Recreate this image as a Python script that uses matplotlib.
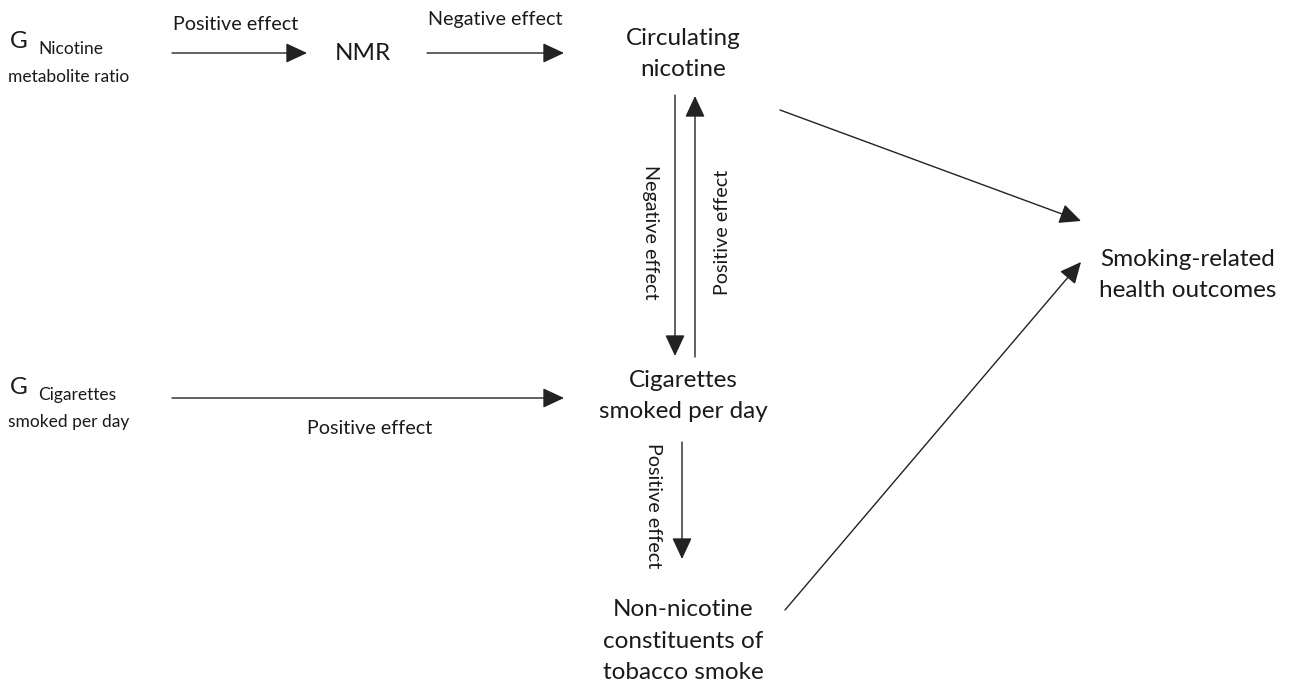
import matplotlib
matplotlib.use("Agg")
import matplotlib.pyplot as plt

plt.rcParams['font.family'] = ['Lato', 'DejaVu Sans']

# Node labels
node_names = ["NMR", "Circulating\nnicotine", "Cigarettes\nsmoked per day",
              "Non-nicotine\nconstituents of\ntobacco smoke",
              "Smoking-related\nhealth outcomes"]
instrument_main = ["G", "G"]
instrument_sub = ["Nicotine", "Cigarettes"]
instrument_sub2 = ["metabolite ratio", "smoked per day"]
effect_labels = ["Positive effect", "Negative effect", "Negative effect",
                 "Positive effect", "Positive effect", "Positive effect"]

W, H = 1307, 689
fig = plt.figure(figsize=(W / 100, H / 100), dpi=100)
ax = fig.add_axes([0, 0, 1, 1])
ax.set_xlim(0, W)
ax.set_ylim(H, 0)
ax.axis('off')

big = 17.5
small = 14.2
sub = 12.5
tc = '#1a1a1a'

def node(x, y, text):
    ax.text(x, y, text, ha='center', va='center', fontsize=big,
            linespacing=1.62, color=tc)

node(363, 53, node_names[0])
node(683, 54, node_names[1])
node(683, 396, node_names[2])
node(683, 641, node_names[3])
node(1188, 275, node_names[4])

# Instruments
for (gy, sy, s2y), m, s, s2 in zip([(41, 49, 77), (387, 395, 422)],
                                    instrument_main, instrument_sub, instrument_sub2):
    ax.text(10, gy, m, ha='left', va='center', fontsize=big, color=tc)
    ax.text(38, sy, s, ha='left', va='center', fontsize=sub, color=tc)
    ax.text(8, s2y, s2, ha='left', va='center', fontsize=sub, color=tc)

def arrow(x0, y0, x1, y1):
    ax.annotate("", xy=(x1, y1), xytext=(x0, y0),
                arrowprops=dict(arrowstyle='-|>,head_length=0.6,head_width=0.28',
                                color='#222222', lw=1.0,
                                mutation_scale=22, shrinkA=0, shrinkB=0))

arrow(172, 53, 307, 53)
arrow(427, 53, 564, 53)
arrow(675, 95, 675, 356)
arrow(695, 357, 695, 96)
arrow(172, 398, 564, 398)
arrow(682, 442, 682, 559)
arrow(780, 110, 1081, 221)
arrow(785, 610, 1081, 262)

# Effect labels
ax.text(236, 25, effect_labels[0], ha='center', va='center', fontsize=small, color=tc)
ax.text(495, 20, effect_labels[1], ha='center', va='center', fontsize=small, color=tc)
ax.text(650, 232, effect_labels[2], ha='center', va='center', fontsize=small,
        rotation=-90, color=tc)
ax.text(722, 232, effect_labels[3], ha='center', va='center', fontsize=small,
        rotation=90, color=tc)
ax.text(370, 429, effect_labels[4], ha='center', va='center', fontsize=small, color=tc)
ax.text(654, 506, effect_labels[5], ha='center', va='center', fontsize=small,
        rotation=-90, color=tc)

fig.savefig("out.png", dpi=100, facecolor='white')
